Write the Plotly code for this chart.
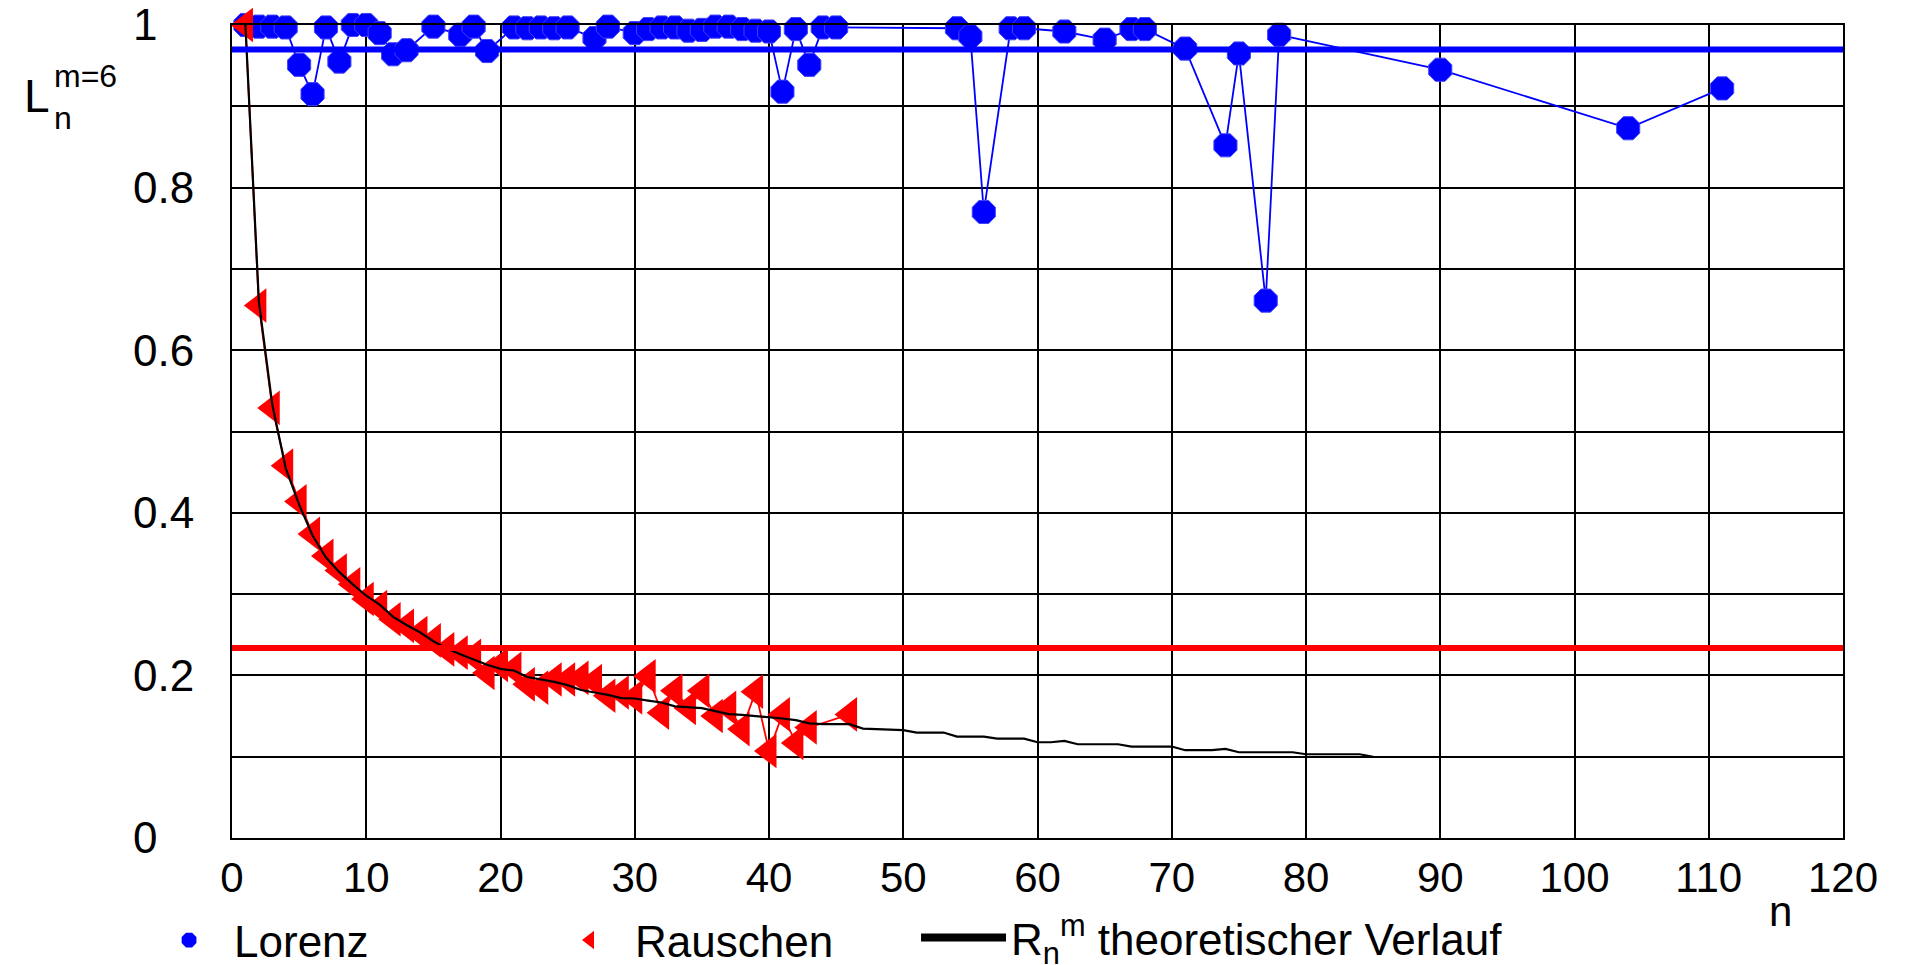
import plotly.graph_objects as go

# ---------------- data ----------------
lorenz_n = [1, 2, 3, 4, 5, 6, 7, 8, 9, 10, 11, 12, 13, 15, 17, 18, 19, 21, 22, 23,
            24, 25, 27, 28, 30, 31, 32, 33, 34, 35, 36, 37, 38, 39, 40, 41, 42, 43,
            44, 45, 54, 55, 56, 58, 59, 62, 65, 67, 68, 71, 74, 75, 77, 78, 90, 104, 111]
lorenz_v = [1.0, 0.998, 0.998, 0.997, 0.951, 0.915, 0.997, 0.955, 1.0, 1.0, 0.99, 0.964,
            0.969, 0.998, 0.988, 0.998, 0.968, 0.997, 0.996, 0.997, 0.996, 0.997, 0.984,
            0.998, 0.99, 0.995, 0.997, 0.997, 0.993, 0.994, 0.998, 0.998, 0.995, 0.993,
            0.992, 0.918, 0.995, 0.951, 0.997, 0.997, 0.996, 0.986, 0.770, 0.996, 0.996,
            0.992, 0.982, 0.995, 0.995, 0.971, 0.852, 0.965, 0.661, 0.988, 0.945, 0.873,
            0.922]

rauschen_n = [1, 2, 3, 4, 5, 6, 7, 8, 9, 10, 11, 12, 13, 14, 15, 16, 17, 18, 19, 20,
              21, 22, 23, 24, 25, 26, 27, 28, 29, 30, 31, 32, 33, 34, 35, 36, 37, 38,
              39, 40, 41, 42, 43, 46]
rauschen_v = [1.0, 0.655, 0.529, 0.458, 0.414, 0.374, 0.347, 0.329, 0.312, 0.294, 0.284,
              0.269, 0.261, 0.252, 0.243, 0.232, 0.228, 0.224, 0.203, 0.213, 0.208, 0.189,
              0.185, 0.195, 0.195, 0.197, 0.193, 0.175, 0.179, 0.173, 0.199, 0.154, 0.181,
              0.160, 0.181, 0.150, 0.160, 0.134, 0.180, 0.107, 0.152, 0.117, 0.136, 0.152]

theorie_n = list(range(1, 86))
theorie_v = [1.0, 0.66, 0.533, 0.455, 0.41, 0.372, 0.345, 0.327, 0.312, 0.298,
             0.287, 0.272, 0.262, 0.253, 0.242, 0.233, 0.226, 0.219, 0.213, 0.208,
             0.206, 0.198, 0.195, 0.192, 0.188, 0.182, 0.179, 0.176, 0.172, 0.1716,
             0.169, 0.1667, 0.162, 0.161, 0.1597, 0.156, 0.1523, 0.1515, 0.150, 0.149,
             0.147, 0.145, 0.141, 0.140, 0.140, 0.140, 0.1346, 0.134, 0.1326, 0.1326,
             0.1297, 0.1297, 0.1297, 0.1247, 0.1247, 0.1247, 0.1223, 0.1223, 0.1223, 0.1178,
             0.1178, 0.1195, 0.1153, 0.1153, 0.1153, 0.1153, 0.1125, 0.1125, 0.1125, 0.1125,
             0.108, 0.108, 0.108, 0.1095, 0.1055, 0.1055, 0.1055, 0.1055, 0.1055, 0.103,
             0.103, 0.103, 0.103, 0.103, 0.0997]

lorenz_level = 0.970
rauschen_level = 0.2336

x_tickvals = [0, 10, 20, 30, 40, 50, 60, 70, 80, 90, 100, 110, 120]
x_ticktext = ["0", "10", "20", "30", "40", "50", "60", "70", "80", "90", "100", "110", "120"]
y_tickvals = [0, 0.2, 0.4, 0.6, 0.8, 1.0]
# labels are left-aligned in the original: pad the single digits with no-break spaces
y_ticktext = ["0\u00a0\u00a0\u00a0", "0.2", "0.4", "0.6", "0.8", "1\u00a0\u00a0\u00a0"]
y_grid_step = 0.1

name_lorenz = "Lorenz"
name_rauschen = "Rauschen"
name_theorie = "R<sub>n</sub><sup>m</sup> theoretischer Verlauf"

# ---------------- figure ----------------
FONT = "Liberation Sans, Arial, sans-serif"
BLUE = "#0000FF"
RED = "#FF0000"

fig = go.Figure()

fig.add_trace(go.Scatter(
    x=lorenz_n, y=lorenz_v, mode="lines+markers", name=name_lorenz,
    line=dict(color=BLUE, width=1.8),
    marker=dict(symbol="octagon", size=25, color=BLUE, line=dict(color="#4040FF", width=1)),
    cliponaxis=False, showlegend=False))

fig.add_trace(go.Scatter(
    x=rauschen_n, y=rauschen_v, mode="lines+markers", name=name_rauschen,
    line=dict(color=RED, width=1.8),
    marker=dict(symbol="triangle-left", size=30, color=RED, line=dict(color=RED, width=0)),
    cliponaxis=False, showlegend=False))

fig.add_trace(go.Scatter(
    x=theorie_n, y=theorie_v, mode="lines", name=name_theorie,
    line=dict(color="black", width=2.2), showlegend=False, cliponaxis=False))

# legend entries (marker-only / thick line glyphs as in the original)
fig.add_trace(go.Scatter(
    x=[None], y=[None], mode="markers", name=name_lorenz,
    marker=dict(symbol="octagon", size=25, color=BLUE), legend="legend"))
fig.add_trace(go.Scatter(
    x=[None], y=[None], mode="markers", name=name_rauschen,
    marker=dict(symbol="triangle-left", size=30, color=RED), legend="legend2"))
fig.add_trace(go.Scatter(
    x=[None], y=[None], mode="lines", name=name_theorie,
    line=dict(color="black", width=8), legend="legend3"))

# mean level lines
fig.add_shape(type="line", xref="x", yref="y", x0=0, x1=120, y0=lorenz_level, y1=lorenz_level,
              line=dict(color=BLUE, width=6), layer="above")
fig.add_shape(type="line", xref="x", yref="y", x0=0, x1=120, y0=rauschen_level, y1=rauschen_level,
              line=dict(color=RED, width=6), layer="above")

axis_common = dict(
    showgrid=True, gridcolor="black", gridwidth=1.5,
    showline=True, linecolor="black", linewidth=2, mirror=True,
    zeroline=False, ticks="", ticklabeloverflow="allow",
)

fig.update_xaxes(range=[0, 120], tickmode="array", tickvals=x_tickvals, ticktext=x_ticktext,
                 ticklabelstandoff=2, tickfont=dict(family=FONT, size=42, color="black"),
                 **axis_common)
fig.update_yaxes(range=[0, 1], tickmode="array", tickvals=y_tickvals, ticktext=y_ticktext,
                 ticklabelstandoff=27, tickfont=dict(family=FONT, size=44, color="black"),
                 minor=dict(dtick=y_grid_step, tick0=0, showgrid=True, gridcolor="black",
                            gridwidth=1.5, ticks=""),
                 **axis_common)

legend_common = dict(orientation="h", xanchor="left", yanchor="middle",
                     font=dict(family=FONT, size=44, color="black"),
                     bgcolor="rgba(0,0,0,0)", borderwidth=0)

# the page puts the figure 8 px from its top-left corner, so the figure is 8 px smaller
fig.update_layout(
    width=1897, height=957,
    margin=dict(l=224, r=62, t=17, b=127, autoexpand=False),
    plot_bgcolor="white", paper_bgcolor="white",
    font=dict(family=FONT, color="black"),
    showlegend=True,
    legend=dict(x=-0.0546, y=-0.126, itemwidth=80, **legend_common),
    legend2=dict(x=0.1943, y=-0.126, itemwidth=80, **legend_common),
    legend3=dict(x=0.4246, y=-0.123, itemwidth=85, **legend_common),
    annotations=[
        dict(text="L", xref="paper", yref="paper", x=-0.1295, y=0.913, xanchor="left",
             yanchor="middle", showarrow=False, borderpad=0,
             font=dict(family=FONT, size=46, color="black")),
        dict(text="m=6<br>n", xref="paper", yref="paper", x=-0.1110, y=0.912, xanchor="left",
             yanchor="middle", align="left", showarrow=False, borderpad=0,
             font=dict(family=FONT, size=32, color="black")),
        dict(text="n", xref="paper", yref="paper", x=0.961, y=-0.091, xanchor="center",
             yanchor="middle", showarrow=False, font=dict(family=FONT, size=42, color="black")),
    ],
)

fig.write_html("out.html")
